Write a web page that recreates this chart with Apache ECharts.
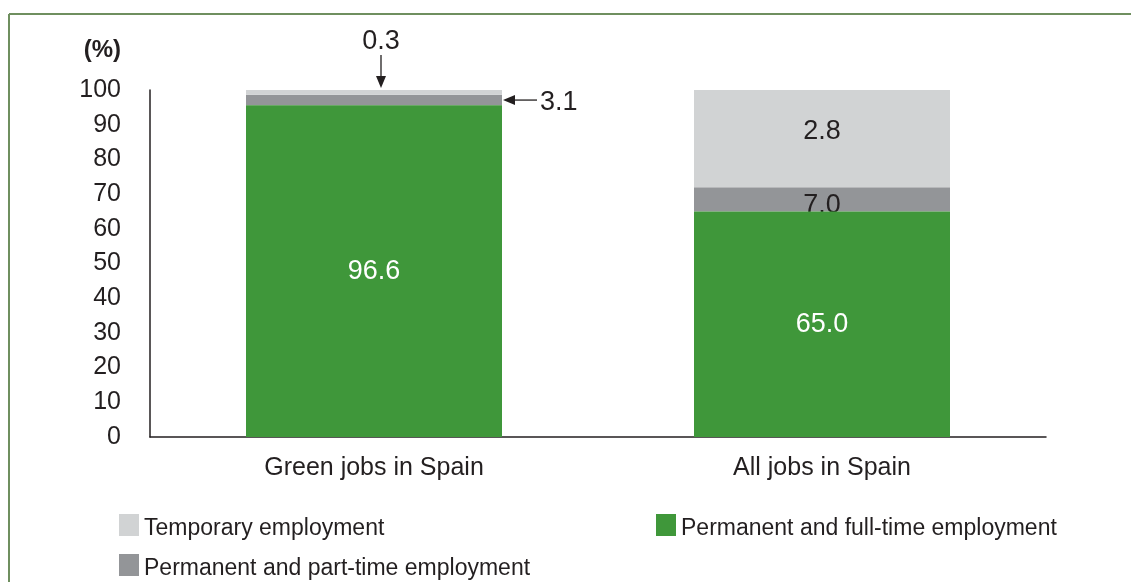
<!DOCTYPE html>
<html>
<head>
<meta charset="utf-8">
<script src="https://cdn.jsdelivr.net/npm/echarts@6/dist/echarts.min.js"></script>
<style>
html,body{margin:0;padding:0;background:#fff;}
#chart{width:1131px;height:582px;}
</style>
</head>
<body>
<div id="chart"></div>
<script>
// ---- data ----
const categories = ['Green jobs in Spain', 'All jobs in Spain'];
const fullTime  = [95.6, 65.0];
const partTime  = [3.0, 7.0];
const temporary = [1.4, 28.0];
const fullTimeLabels  = ['96.6', '65.0'];
const partTimeLabels  = ['', '7.0'];
const temporaryLabels = ['', '2.8'];
const calloutTop  = '0.3';
const calloutSide = '3.1';
const yTicks = [0, 100, 10];

const FONT = '"Liberation Sans", Arial, sans-serif';
const TXT = '#231f20';
const GREEN = '#3f973a', DARK = '#939598', LIGHT = '#d1d3d4';

const chart = echarts.init(document.getElementById('chart'));

function lbl(arr, color, offset) {
  return {
    show: true, position: 'inside', color: color, fontFamily: FONT, fontSize: 27,
    offset: offset || [0, 0],
    formatter: p => arr[p.dataIndex]
  };
}

const option = {
  animation: false,
  grid: { left: 150, top: 90, right: 85, bottom: 145 },
  xAxis: {
    type: 'category', data: categories,
    axisLine: { lineStyle: { color: TXT, width: 1.5 } },
    axisTick: { show: false },
    axisLabel: { color: TXT, fontFamily: FONT, fontSize: 25, margin: 19 }
  },
  yAxis: {
    type: 'value', min: yTicks[0], max: yTicks[1], interval: yTicks[2],
    axisLine: { show: true, lineStyle: { color: TXT, width: 1.5 } },
    axisTick: { show: false },
    splitLine: { show: false },
    axisLabel: { color: TXT, fontFamily: FONT, fontSize: 25, margin: 29 }
  },
  legend: [
    { data: ['Temporary employment'], left: 119, top: 514 },
    { data: ['Permanent and full-time employment'], left: 656, top: 514 },
    { data: ['Permanent and part-time employment'], left: 119, top: 554 }
  ].map(l => Object.assign(l, {
    orient: 'horizontal', padding: 0, icon: 'rect', itemWidth: 20, itemHeight: 22,
    selectedMode: false,
    formatter: '{a|{name}}',
    textStyle: { color: TXT, fontFamily: FONT, fontSize: 23,
      rich: { a: { color: TXT, fontFamily: FONT, fontSize: 23, padding: [7, 0, 0, 0] } } }
  })),
  series: [
    { name: 'Permanent and full-time employment', type: 'bar', stack: 's', z: 3,
      barWidth: 256, data: fullTime, itemStyle: { color: GREEN },
      label: lbl(fullTimeLabels, '#ffffff') },
    { name: 'Permanent and part-time employment', type: 'bar', stack: 's', z: 2,
      barWidth: 256, data: partTime, itemStyle: { color: DARK },
      label: lbl(partTimeLabels, TXT, [0, 6]) },
    { name: 'Temporary employment', type: 'bar', stack: 's', z: 2,
      barWidth: 256, data: temporary, itemStyle: { color: LIGHT },
      label: lbl(temporaryLabels, TXT, [0, -7]) }
  ],
  graphic: []
};
chart.setOption(option);

// ---- annotations positioned from the axes ----
const top0 = chart.convertToPixel({ seriesIndex: 0 }, [0, fullTime[0] + partTime[0] + temporary[0]]);
const mid0 = chart.convertToPixel({ seriesIndex: 0 }, [0, fullTime[0] + partTime[0] / 2]);
const barHalf = 128;
const ax = top0[0] + 7, ay = top0[1] - 2;
const sx = top0[0] + barHalf + 1, sy = mid0[1];
const frameColor = '#6f8f5f';
chart.setOption({
  graphic: [
    { type: 'line', shape: { x1: 9, y1: 14, x2: 1131, y2: 14 }, style: { stroke: frameColor, lineWidth: 2 } },
    { type: 'line', shape: { x1: 9, y1: 14, x2: 9, y2: 582 }, style: { stroke: frameColor, lineWidth: 2 } },
    { type: 'text', x: 121, y: 50, style: { text: '(%)', fill: TXT, font: 'bold 24px ' + FONT, align: 'right', verticalAlign: 'middle' } },
    // top callout
    { type: 'text', x: ax, y: 42, style: { text: calloutTop, fill: TXT, font: '27px ' + FONT, align: 'center', verticalAlign: 'middle' } },
    { type: 'line', shape: { x1: ax, y1: 55, x2: ax, y2: ay - 8 }, style: { stroke: TXT, lineWidth: 1.3 } },
    { type: 'polygon', shape: { points: [[ax - 5, ay - 12], [ax + 5, ay - 12], [ax, ay]] }, style: { fill: TXT } },
    // side callout
    { type: 'line', shape: { x1: sx + 8, y1: sy, x2: sx + 34, y2: sy }, style: { stroke: TXT, lineWidth: 1.3 } },
    { type: 'polygon', shape: { points: [[sx, sy], [sx + 12, sy - 5], [sx + 12, sy + 5]] }, style: { fill: TXT } },
    { type: 'text', x: sx + 37, y: sy + 2, style: { text: calloutSide, fill: TXT, font: '27px ' + FONT, align: 'left', verticalAlign: 'middle' } }
  ]
});
</script>
</body>
</html>
